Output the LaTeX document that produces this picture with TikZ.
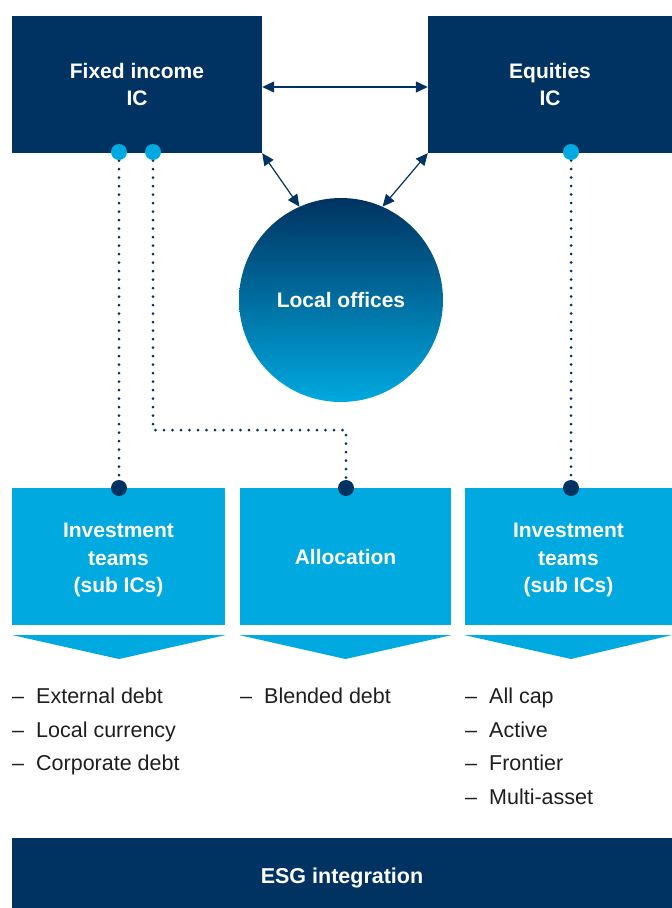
\documentclass[tikz,border=0pt]{standalone}
\usepackage{fontspec}
\setmainfont{Liberation Sans}
\usetikzlibrary{arrows.meta}
\definecolor{navy}{RGB}{0,51,97}
\definecolor{sky}{RGB}{0,169,223}
\definecolor{txt}{RGB}{30,30,30}
\pgfdeclarelayer{bg}\pgfsetlayers{bg,main}
\begin{document}
\begin{tikzpicture}[x=1pt,y=-1pt,
  darkbox/.style={rectangle,fill=navy,text=white,font=\fontsize{21}{27.5}\selectfont\bfseries,align=center,inner sep=0},
  lightbox/.style={darkbox,fill=sky},
  link/.style={draw=navy,line width=1.2pt,{Triangle[length=12pt,width=11pt]}-{Triangle[length=12pt,width=11pt]}},
  dotline/.style={draw=navy,line width=3pt,line cap=round,dash pattern=on 0pt off 8.5pt},
  topdot/.style={circle,fill=sky,minimum size=16pt,inner sep=0},
  botdot/.style={circle,fill=navy,minimum size=16pt,inner sep=0},
  item/.style={anchor=base west,inner sep=0,text=txt,font=\fontsize{21.5}{26}\selectfont},
  chev/.style={fill=sky}]
\useasboundingbox (0,0) rectangle (672,908);

% top boxes
\node[darkbox,minimum width=250pt,minimum height=137pt] (fi) at (137,84.5) {Fixed income\\IC};
\node[darkbox,minimum width=244pt,minimum height=137pt] (eq) at (550,84.5) {Equities\\IC};

% local offices
\node[circle,minimum size=204pt,inner sep=0,top color=navy,bottom color=sky,
      text=white,font=\fontsize{21}{26}\selectfont\bfseries] (lo) at (341,300) {Local offices};

% arrows
\draw[link] ([yshift=-2.5pt]fi.east) -- ([yshift=-2.5pt]eq.west);
\draw[link] (fi.south east) -- (lo.114);
\draw[link] (eq.south west) -- (lo.66);

% bottom boxes
\node[lightbox,minimum width=213pt,minimum height=137pt] (t1) at (118.5,556.5) {\rule{0pt}{21.5pt}Investment\\teams\\(sub ICs)};
\node[lightbox,minimum width=211pt,minimum height=137pt] (al) at (345.5,556.5) {Allocation};
\node[lightbox,minimum width=207pt,minimum height=137pt] (t3) at (568.5,556.5) {\rule{0pt}{21.5pt}Investment\\teams\\(sub ICs)};

% dots
\node[topdot] (d1) at (119,152) {};
\node[topdot] (d2) at (153,152) {};
\node[topdot] (d3) at (571,152) {};
\node[botdot] (b1) at (119,488) {};
\node[botdot] (b2) at (346,488) {};
\node[botdot] (b3) at (571,488) {};

\begin{pgfonlayer}{bg}
\draw[dotline] (d1.center) -- (b1.center);
\draw[dotline] (d2.center) -- (d2.center |- 0,430) -| (b2.center);
\draw[dotline] (d3.center) -- (b3.center);
\end{pgfonlayer}

% chevrons
\fill[chev] (12,635) -- (226,635) -- (119,659) -- cycle;
\fill[chev] (239,635) -- (452,635) -- (345.5,659) -- cycle;
\fill[chev] (464,635) -- (672,635) -- (571,659) -- cycle;

% lists
\node[item] (l1) at (12,703.3) {\makebox[24pt][l]{–}External debt};
\node[item] (l2) at (12,737) {\makebox[24pt][l]{–}Local currency};
\node[item] (l3) at (12,770.7) {\makebox[24pt][l]{–}Corporate debt};
\node[item] (m1) at (240,703.3) {\makebox[24pt][l]{–}Blended debt};
\node[item] (r1) at (465,703.3) {\makebox[24pt][l]{–}All cap};
\node[item] (r2) at (465,737) {\makebox[24pt][l]{–}Active};
\node[item] (r3) at (465,770.7) {\makebox[24pt][l]{–}Frontier};
\node[item] (r4) at (465,804.4) {\makebox[24pt][l]{–}Multi-asset};

% ESG bar
\node[darkbox,font=\fontsize{21.5}{26}\selectfont\bfseries,minimum width=660pt,minimum height=70pt,
      text height=21pt,text depth=0pt] (esg) at (342,873) {ESG integration};
\end{tikzpicture}
\end{document}
